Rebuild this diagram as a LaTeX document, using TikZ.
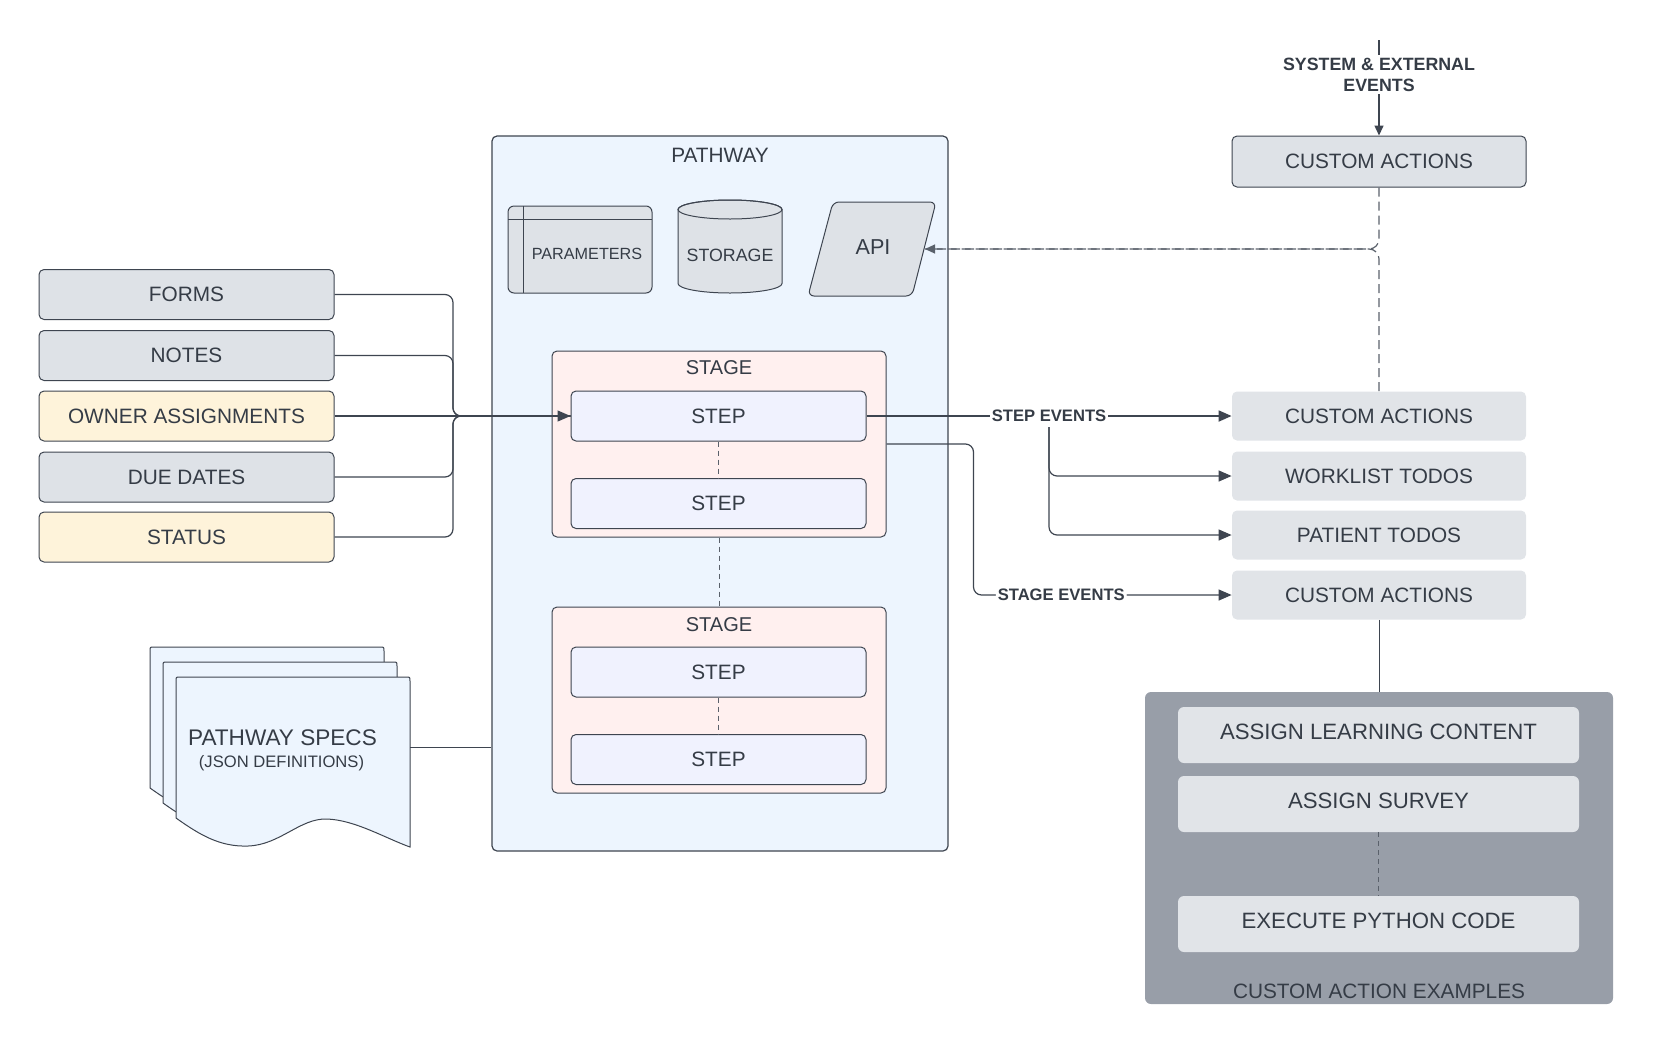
\documentclass[tikz,border=0pt]{standalone}
\usepackage{fontspec}
\setmainfont{Liberation Sans}
\usetikzlibrary{arrows.meta}
\definecolor{lineC}{HTML}{3E4550}
\definecolor{dashC}{HTML}{5A616B}
\definecolor{txt}{HTML}{353C46}
\definecolor{greyF}{HTML}{DEE2E7}
\definecolor{yellowF}{HTML}{FEF3DA}
\definecolor{pathF}{HTML}{EDF5FE}
\definecolor{stageF}{HTML}{FFF0EF}
\definecolor{stepF}{HTML}{F0F2FE}
\definecolor{rightF}{HTML}{E1E4E8}
\definecolor{exF}{HTML}{989EA8}
\newcommand\myfs[2]{\fontsize{#1}{#2}\selectfont}
\begin{document}
\begin{tikzpicture}[x=0.5pt,y=-0.5pt,
  every node/.style={text=txt, inner sep=0pt, font=\myfs{10.4pt}{12pt}},
  gbox/.style={draw=lineC, line width=0.5pt, rounded corners=2.5pt, fill=greyF, minimum width=147.5pt, minimum height=25pt},
  ybox/.style={gbox, fill=yellowF},
  rbox/.style={fill=rightF, rounded corners=2.5pt, minimum width=147pt, minimum height=24.5pt},
  stagebox/.style={draw=lineC, line width=0.5pt, rounded corners=2.5pt, fill=stageF, minimum width=167pt, minimum height=93pt},
  stepbox/.style={draw=lineC, line width=0.5pt, rounded corners=2.5pt, fill=stepF, minimum width=147.5pt, minimum height=25pt},
  exbox/.style={fill=rightF, rounded corners=3pt, minimum width=200.5pt, minimum height=28pt, font=\myfs{11.1pt}{13pt}},
  conn/.style={draw=lineC, line width=0.6pt},
  arr/.style={-{Triangle[length=6.5pt,width=5.5pt]}},
  sarr/.style={-{Triangle[length=5pt,width=4.5pt]}},
  dsh/.style={draw=dashC, line width=0.5pt, dash pattern=on 2.5pt off 2pt},
  ldsh/.style={draw=dashC, line width=0.6pt, dash pattern=on 4.5pt off 2.5pt},
  evlabel/.style={font=\bfseries\myfs{8.3pt}{10pt}, fill=white, inner sep=1pt},
]
\useasboundingbox (0,0) rectangle (1654,1045);

% ---------- left inputs ----------
\node[gbox] (forms) at (186.5,294.5) {FORMS};
\node[gbox] (notes) at (186.5,355.5) {NOTES};
\node[ybox] (owner) at (186.5,416) {OWNER ASSIGNMENTS};
\node[gbox] (due) at (186.5,477) {DUE DATES};
\node[ybox] (status) at (186.5,537) {STATUS};

% ---------- pathway container ----------
\node[draw=lineC, line width=0.6pt, fill=pathF, rounded corners=2.5pt,
      minimum width=228pt, minimum height=357.5pt] (pw) at (720,493.5) {};
\node[font=\myfs{10.4pt}{12pt}] (pwt) at (720,155) {PATHWAY};

% parameters
\node[draw=lineC, line width=0.5pt, fill=greyF, rounded corners=3pt,
      minimum width=72pt, minimum height=43.5pt] (par) at (580,249.5) {};
\draw[lineC, line width=0.5pt] (523,206) -- (523,293);
\draw[lineC, line width=0.5pt] (508,219) -- (652,219);
\node[font=\myfs{8.1pt}{10pt}] (partxt) at (587,254) {PARAMETERS};

% storage
\path[fill=greyF, draw=lineC, line width=0.5pt] (678,209.5) -- (678,283.5)
   arc[start angle=180, end angle=360, x radius=26pt, y radius=4.75pt] -- (782,209.5)
   arc[start angle=0, end angle=180, x radius=26pt, y radius=4.75pt] -- cycle;
\draw[lineC, line width=0.5pt] (730,209.5) ellipse [x radius=26pt, y radius=4.75pt];
\node[font=\myfs{8.9pt}{10pt}] (stor) at (730,255) {STORAGE};

% api
\draw[draw=lineC, line width=0.5pt, fill=greyF, rounded corners=3pt]
   (833,202) -- (936,202) -- (912,296) -- (808,296) -- cycle;
\node[font=\myfs{10.8pt}{12pt}] (api) at (873,247) {API};
\coordinate (apiR) at (925,249);

% stages and steps
\node[stagebox] (stg1) at (719,444) {};
\node[font=\myfs{10pt}{12pt}] (stg1t) at (719,368) {STAGE};
\node[stepbox] (st1) at (718.5,416) {STEP};
\node[stepbox] (st2) at (718.5,503.5) {STEP};
\node[stagebox] (stg2) at (719,700) {};
\node[font=\myfs{10pt}{12pt}] (stg2t) at (719,625) {STAGE};
\node[stepbox] (st3) at (718.5,672) {STEP};
\node[stepbox] (st4) at (718.5,759.5) {STEP};
\draw[dsh] (st1.south) -- (st2.north);
\draw[dsh] (stg1.south) -- (stg2.north);
\draw[dsh] (st3.south) -- (st4.north);

% ---------- pathway specs ----------
\foreach \d/\e in {26/30,13/15,0/0} {
  \path[shift={(-\d,-\e)}, fill=pathF, draw=lineC, line width=0.5pt]
    (176,818) -- (176,681) .. controls (176,677) .. (180,677) -- (406,677)
    .. controls (410,677) .. (410,681) -- (410,847)
    .. controls (385,838) and (355,820) .. (327,819)
    .. controls (300,818) and (280,845) .. (248,846)
    .. controls (220,847) and (200,835) .. (176,818) -- cycle;
}
\node[font=\myfs{11.3pt}{13pt}] (specs) at (282.5,738) {PATHWAY SPECS};
\node[font=\myfs{8.3pt}{10pt}] (specs2) at (281.5,763) {(JSON DEFINITIONS)};
\coordinate (specsR) at (410,747);
\draw[conn, line width=0.5pt] (specsR) -- (pw.west |- specsR);

% ---------- right side ----------
\node[gbox, minimum width=147pt, minimum height=25.5pt] (ca1) at (1379,161.5) {CUSTOM ACTIONS};
\node[rbox] (ca2) at (1379,416) {CUSTOM ACTIONS};
\node[rbox] (wl) at (1379,476) {WORKLIST TODOS};
\node[rbox] (pt) at (1379,535) {PATIENT TODOS};
\node[rbox] (ca3) at (1379,595) {CUSTOM ACTIONS};

% examples
\node[fill=exF, rounded corners=3pt, minimum width=234pt, minimum height=156pt] (ex) at (1379,848) {};
\node[exbox] (ex1) at (1378.5,735) {\raisebox{3pt}{ASSIGN LEARNING CONTENT}};
\node[exbox] (ex2) at (1378.5,804) {\raisebox{3pt}{ASSIGN SURVEY}};
\node[exbox] (ex3) at (1378.5,924) {\raisebox{3pt}{EXECUTE PYTHON CODE}};
\node[font=\myfs{10.4pt}{12pt}] (exl) at (1379,991) {CUSTOM ACTION EXAMPLES};
\draw[dsh] (ex2.south) -- (ex3.north);
\draw[conn, line width=0.5pt] (ca3.south) -- (ex.north);

% ---------- connectors ----------
\coordinate (jn) at (453,416);
\foreach \n in {forms,notes,due,status}
  \draw[conn, rounded corners=4pt] (\n.east) -| (jn) -- (st1.west);
\draw[conn, arr] (owner.east) -- (st1.west);

\coordinate (extop) at (1379,40);
\draw[conn, line width=0.75pt, sarr] (extop) -- node[pos=0.36, fill=white, inner sep=1.5pt, align=center,
   font=\bfseries\myfs{8.9pt}{10.5pt}] (extl) {SYSTEM \& EXTERNAL\\EVENTS} (ca1.north);

\draw[ldsh, rounded corners=5pt, sarr] (ca1.south) |- (apiR);
\draw[ldsh, rounded corners=5pt] (ca2.north) |- (apiR);

\draw[conn, line width=0.9pt, arr] (st1.east) -- node[evlabel] (sel) {STEP EVENTS} (ca2.west);
\coordinate (sebr) at (1049,427);
\draw[conn, arr, rounded corners=4pt] (sebr) |- (wl.west);
\draw[conn, arr, rounded corners=4pt] (sebr) |- (pt.west);

\draw[conn, arr, rounded corners=4pt] (stg1.east) -- ++(87,0) |- node[evlabel, pos=0.67] (sgl) {STAGE EVENTS} (ca3.west);
\end{tikzpicture}
\end{document}
